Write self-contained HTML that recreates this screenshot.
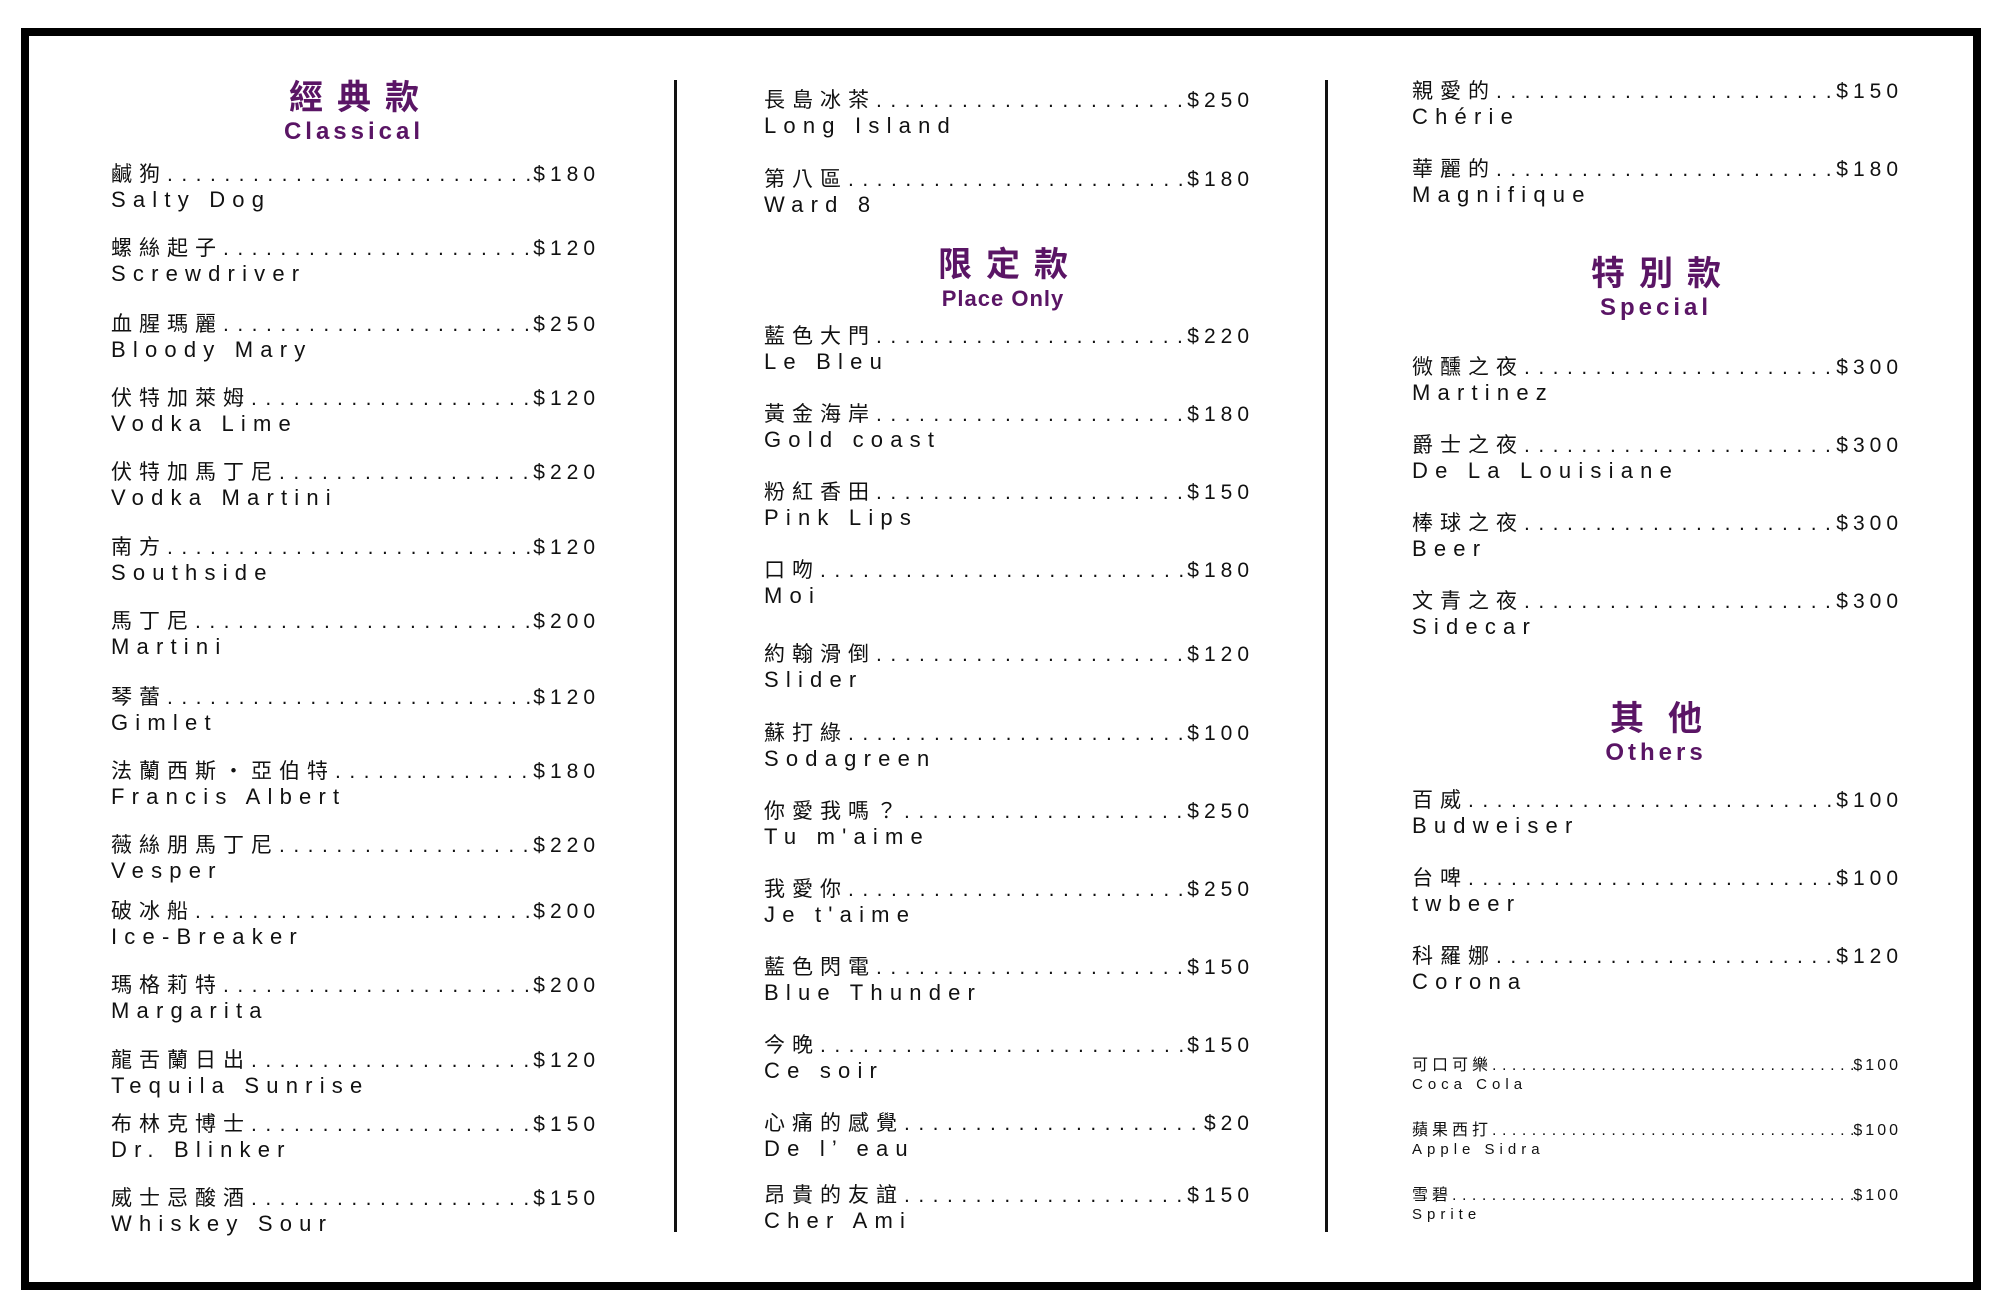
<!DOCTYPE html>
<html><head><meta charset="utf-8">
<style>
html,body{margin:0;padding:0;background:#fff;}
body{width:2002px;height:1307px;position:relative;overflow:hidden;font-family:"Liberation Sans","Noto Sans CJK TC",sans-serif;color:#111;}
.frame{position:absolute;left:21px;top:28px;width:1944px;height:1246px;border:8px solid #000;}
.divider{position:absolute;width:3px;background:#111;top:80px;height:1152px;}
.head{position:absolute;text-align:center;color:#5a1565;width:300px;}
.head .cn{font-size:34px;font-weight:bold;letter-spacing:14px;line-height:40px;margin-right:-14px;}
.head .en{font-size:24px;font-weight:bold;letter-spacing:4px;line-height:28px;}
.row{position:absolute;}
.l1{display:flex;align-items:baseline;font-size:21px;line-height:26px;white-space:nowrap;}
.nm{letter-spacing:7px;}
.ld{flex:1;overflow:hidden;letter-spacing:8.5px;}
.pr{letter-spacing:5px;}
.l2{font-size:22px;letter-spacing:7.2px;line-height:24px;white-space:nowrap;}
.sm .l1{font-size:16px;line-height:20px;}
.sm .nm{letter-spacing:4px;}
.sm .ld{letter-spacing:5.5px;}
.sm .pr{letter-spacing:3px;}
.sm .l2{font-size:15px;letter-spacing:5px;line-height:18px;}
</style></head>
<body>
<div class="frame"></div>
<div class="divider" style="left:674px"></div>
<div class="divider" style="left:1325px"></div>

<div class="head" style="left:204px;top:78px"><div class="cn">經典款</div><div class="en">Classical</div></div>
<div class="head" style="left:853px;top:245px"><div class="cn">限定款</div><div class="en" style="letter-spacing:1px;font-size:22px">Place Only</div></div>
<div class="head" style="left:1506px;top:254px"><div class="cn">特別款</div><div class="en">Special</div></div>
<div class="head" style="left:1506px;top:699px"><div class="cn" style="letter-spacing:24px;margin-right:-24px">其他</div><div class="en">Others</div></div>

<div id="items"></div>
<script>
var col1=[["鹹狗","Salty Dog","$180",172],["螺絲起子","Screwdriver","$120",246],["血腥瑪麗","Bloody Mary","$250",322],["伏特加萊姆","Vodka Lime","$120",396],["伏特加馬丁尼","Vodka Martini","$220",470],["南方","Southside","$120",545],["馬丁尼","Martini","$200",619],["琴蕾","Gimlet","$120",695],["法蘭西斯・亞伯特","Francis Albert","$180",769],["薇絲朋馬丁尼","Vesper","$220",843],["破冰船","Ice-Breaker","$200",909],["瑪格莉特","Margarita","$200",983],["龍舌蘭日出","Tequila Sunrise","$120",1058],["布林克博士","Dr. Blinker","$150",1122],["威士忌酸酒","Whiskey Sour","$150",1196]];
var col2=[["長島冰茶","Long Island","$250",98],["第八區","Ward 8","$180",177],["藍色大門","Le Bleu","$220",334],["黃金海岸","Gold coast","$180",412],["粉紅香田","Pink Lips","$150",490],["口吻","Moi","$180",568],["約翰滑倒","Slider","$120",652],["蘇打綠","Sodagreen","$100",731],["你愛我嗎？","Tu m'aime","$250",809],["我愛你","Je t'aime","$250",887],["藍色閃電","Blue Thunder","$150",965],["今晚","Ce soir","$150",1043],["心痛的感覺","De l’ eau","$20",1121],["昂貴的友誼","Cher Ami","$150",1193]];
var col3=[["親愛的","Chérie","$150",89],["華麗的","Magnifique","$180",167],["微醺之夜","Martinez","$300",365],["爵士之夜","De La Louisiane","$300",443],["棒球之夜","Beer","$300",521],["文青之夜","Sidecar","$300",599],["百威","Budweiser","$100",798],["台啤","twbeer","$100",876],["科羅娜","Corona","$120",954]];
var small=[["可口可樂","Coca Cola","$100",1064],["蘋果西打","Apple Sidra","$100",1129],["雪碧","Sprite","$100",1194]];
var host=document.getElementById('items');
var dots=new Array(80).join('.');
function add(list,left,right,cls){
  list.forEach(function(it){
    var r=document.createElement('div');
    r.className='row'+(cls?' '+cls:'');
    
    
    r.style.left=left+'px';r.style.width=(right-left)+'px';
    r.style.top=(it[3]-(cls?8:10))+'px';
    r.innerHTML='<div class="l1"><span class="nm">'+it[0]+'</span><span class="ld">'+dots+'</span><span class="pr">'+it[2]+'</span></div><div class="l2">'+it[1]+'</div>';
    host.appendChild(r);
  });
}
add(col1,111,600);
add(col2,764,1254);
add(col3,1412,1903);
add(small,1412,1901,'sm');
</script>
</body></html>
